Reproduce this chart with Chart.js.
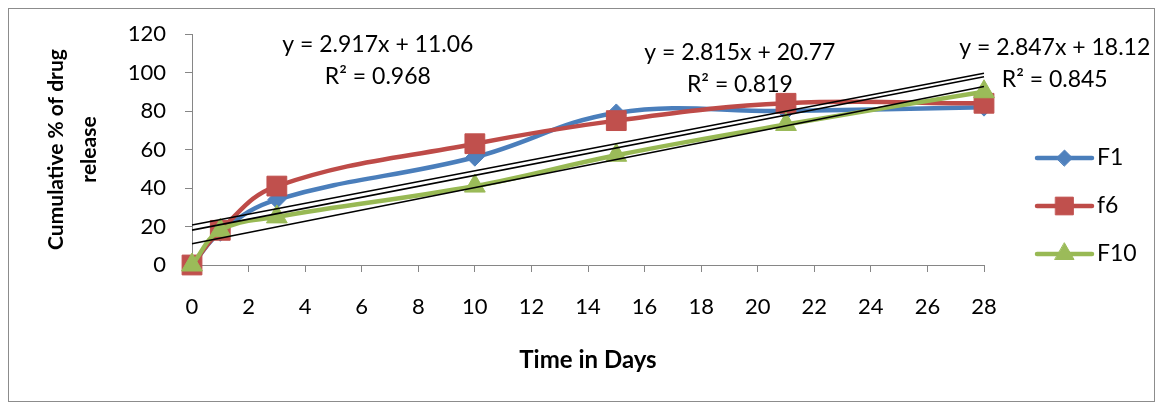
<!DOCTYPE html>
<html><head><meta charset="utf-8">
<script src="https://cdn.jsdelivr.net/npm/chart.js@4.4.1/dist/chart.umd.min.js"></script>
<style>
html,body{margin:0;padding:0;background:#fff;}
#wrap{position:relative;width:1163px;height:409px;}
#frame{position:absolute;left:8px;top:8px;width:1145px;height:392px;border:1.5px solid #8c8c8c;pointer-events:none;}
canvas{position:absolute;left:0;top:0;}
</style></head><body>
<div id="wrap"><canvas id="c" width="1163" height="409"></canvas><div id="frame"></div></div>
<script>
// ---- data ----
const days = [0, 1, 3, 10, 15, 21, 28];
const seriesNames = ['F1', 'f6', 'F10'];
const f1Values = [0, 17, 34, 56, 79, 80, 82];
const f6Values = [0, 18, 41, 63, 75, 84, 84];
const f10Values = [0, 18, 25, 41, 57, 73, 90];
const trendSlopes = [2.847, 2.815, 2.917];
const trendIntercepts = [18.12, 20.77, 11.06];
const trendR2 = ['0.845', '0.819', '0.968'];
const xTicks = [0, 2, 4, 6, 8, 10, 12, 14, 16, 18, 20, 22, 24, 26, 28];
const yTicks = [0, 20, 40, 60, 80, 100, 120];
const xTitle = 'Time in Days';
const yTitle = ['Cumulative % of drug', 'release'];

const FONT = 'Lato';
const lineColors = ['#4A7EBB', '#BE4B48', '#98B954'];
const markerColors = ['#4F81BD', '#C0504D', '#9BBB59'];
const markerStyles = ['rectRot', 'rect', 'triangle'];
const markerRadii = [9, 14, 12];
const allValues = [f1Values, f6Values, f10Values];

const xMin = xTicks[0], xMax = xTicks[xTicks.length - 1];

const datasets = allValues.map((vals, i) => ({
  label: seriesNames[i],
  data: days.map((d, k) => ({x: d, y: vals[k]})),
  borderColor: lineColors[i],
  backgroundColor: markerColors[i],
  pointBorderColor: markerColors[i],
  pointBackgroundColor: markerColors[i],
  borderWidth: 4.5,
  pointStyle: markerStyles[i],
  pointRadius: markerRadii[i],
  pointBorderWidth: 1,
  tension: 0.4,
  order: 3 - i,
  clip: false,
  isSeries: true
}));
trendSlopes.forEach((m, i) => {
  datasets.push({
    label: 'Linear (' + seriesNames[i] + ')',
    data: [{x: xMin, y: m * xMin + trendIntercepts[i]}, {x: xMax, y: m * xMax + trendIntercepts[i]}],
    borderColor: '#000000',
    borderWidth: 1.6,
    pointRadius: 0,
    tension: 0,
    order: 0,
    clip: false,
    isSeries: false
  });
});

// equation label anchors (in axis units)
const eqAnchors = [
  {x: 30.5, y: 112.7},  // F1
  {x: 19.37, y: 110.1}, // f6
  {x: 6.57, y: 114.3}   // F10
];

const eqPlugin = {
  id: 'eqLabels',
  afterDatasetsDraw(chart) {
    const {ctx, scales: {x, y}} = chart;
    ctx.save();
    ctx.font = '23px ' + FONT;
    ctx.fillStyle = '#000';
    ctx.textAlign = 'center';
    ctx.textBaseline = 'middle';
    trendSlopes.forEach((m, i) => {
      const px = x.getPixelForValue(eqAnchors[i].x);
      const py = y.getPixelForValue(eqAnchors[i].y);
      ctx.fillText('y = ' + m.toFixed(3) + 'x + ' + trendIntercepts[i].toFixed(2), px, py);
      ctx.fillText('R\u00B2 = ' + trendR2[i], px, py + 32);
    });
    ctx.restore();
  }
};

const legendPlugin = {
  id: 'lineLegend',
  afterDraw(chart) {
    const {ctx} = chart;
    const x0 = 1037, x1 = 1092, tx = 1097;
    const ys = [158, 206, 254];
    const legendRadii = [8, 12.5, 11];
    ctx.save();
    chart.data.datasets.filter(d => d.isSeries).forEach((ds, i) => {
      const yy = ys[i];
      ctx.strokeStyle = ds.borderColor;
      ctx.lineWidth = 4.5;
      ctx.lineCap = 'round';
      ctx.beginPath(); ctx.moveTo(x0, yy); ctx.lineTo(x1, yy); ctx.stroke();
      ctx.fillStyle = ds.pointBackgroundColor;
      ctx.strokeStyle = ds.pointBorderColor;
      ctx.lineWidth = 1;
      ctx.beginPath();
      Chart.helpers.drawPoint(ctx, {pointStyle: ds.pointStyle, radius: legendRadii[i], rotation: 0, borderWidth: 1}, (x0 + x1) / 2, yy);
      ctx.fillStyle = '#000';
      ctx.font = '23px ' + FONT;
      ctx.textAlign = 'left';
      ctx.textBaseline = 'middle';
      ctx.fillText(ds.label, tx, yy);
    });
    ctx.restore();
  }
};

const PAD_L = 10, PAD_T = 34, PAD_R = 179, PAD_B = 0;
const CHART_L = 192, CHART_B = 265;

new Chart(document.getElementById('c'), {
  type: 'line',
  data: {datasets},
  options: {
    responsive: false,
    animation: false,
    devicePixelRatio: 1,
    layout: {padding: {left: PAD_L, top: PAD_T, right: PAD_R, bottom: PAD_B}},
    plugins: {legend: {display: false}, tooltip: {enabled: false}},
    scales: {
      x: {
        type: 'linear', min: xMin, max: xMax,
        afterBuildTicks(s) { s.ticks = xTicks.map(v => ({value: v})); },
        afterFit(s) { s.height = 409 - PAD_B - CHART_B; },
        grid: {drawOnChartArea: false, color: '#868686', tickLength: 7},
        border: {color: '#868686', width: 1},
        ticks: {color: '#000', font: {family: FONT, size: 22}, padding: 22, maxRotation: 0},
        title: {display: true, text: xTitle, color: '#000', font: {family: FONT, size: 24, weight: 'bold', lineHeight: 1.2}, padding: {top: 0, bottom: 34}}
      },
      y: {
        min: yTicks[0], max: yTicks[yTicks.length - 1],
        afterBuildTicks(s) { s.ticks = yTicks.map(v => ({value: v})); },
        afterFit(s) { s.width = CHART_L - PAD_L; },
        grid: {drawOnChartArea: false, color: '#868686', tickLength: 7},
        border: {color: '#868686', width: 1},
        ticks: {color: '#000', font: {family: FONT, size: 22}, padding: 19},
        title: {display: true, text: yTitle, color: '#000', font: {family: FONT, size: 21, weight: 'bold', lineHeight: '33px'}, padding: {top: 30, bottom: 0}}
      }
    }
  },
  plugins: [eqPlugin, legendPlugin]
});
</script>
</body></html>
